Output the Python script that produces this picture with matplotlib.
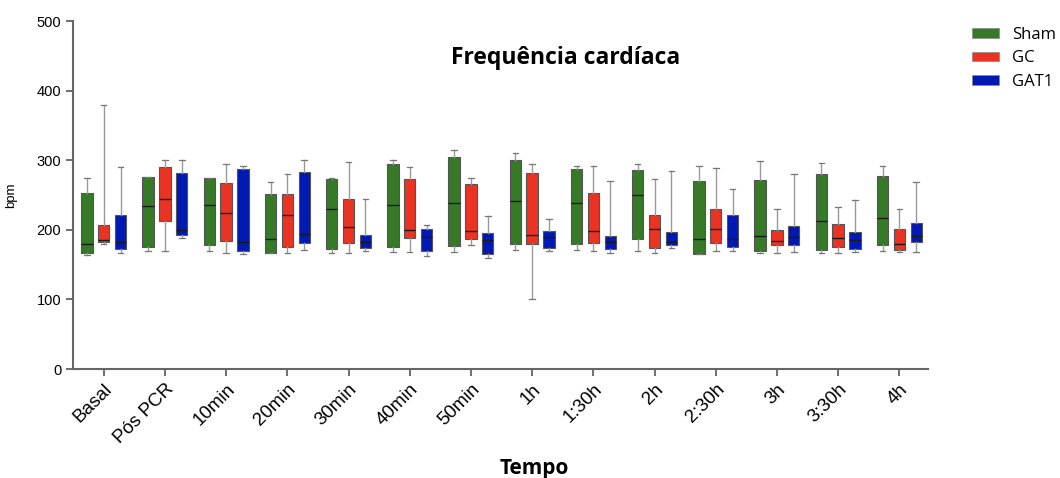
import numpy as np
import matplotlib.pyplot as plt
from matplotlib.patches import Patch

tempos = ['Basal', 'Pós PCR', '10min', '20min', '30min', '40min', '50min',
          '1h', '1:30h', '2h', '2:30h', '3h', '3:30h', '4h']
grupos = ['Sham', 'GC', 'GAT1']
cores = ['#367a27', '#ea3323', '#0019b3']

# each row: [whislo, q1, med, q3, whishi] per time point
sham = [
    [164, 166, 180, 253, 275],
    [170, 175, 234, 276, 276],
    [169, 178, 236, 274, 275],
    [166, 167, 187, 252, 268],
    [167, 173, 230, 273, 275],
    [168, 176, 235, 294, 300],
    [168, 177, 239, 305, 315],
    [171, 180, 242, 301, 311],
    [171, 179, 239, 287, 292],
    [169, 187, 250, 286, 295],
    [165, 165, 187, 270, 291],
    [166, 170, 191, 272, 299],
    [166, 171, 213, 280, 296],
    [170, 178, 217, 277, 292],
]
gc = [
    [179, 182, 186, 207, 380],
    [170, 212, 245, 290, 300],
    [166, 184, 224, 267, 294],
    [167, 176, 221, 252, 280],
    [167, 181, 204, 245, 298],
    [168, 188, 200, 273, 290],
    [178, 187, 198, 266, 274],
    [101, 180, 192, 281, 294],
    [170, 181, 198, 253, 291],
    [166, 174, 201, 221, 273],
    [170, 181, 201, 230, 289],
    [167, 178, 184, 200, 230],
    [166, 176, 188, 208, 233],
    [168, 171, 180, 201, 230],
]
gat1 = [
    [167, 172, 183, 221, 290],
    [188, 192, 200, 281, 300],
    [165, 169, 183, 288, 292],
    [171, 181, 194, 283, 300],
    [170, 174, 183, 193, 245],
    [162, 170, 190, 201, 207],
    [160, 165, 185, 195, 220],
    [169, 174, 189, 199, 216],
    [166, 173, 182, 191, 270],
    [174, 178, 183, 197, 284],
    [170, 175, 187, 221, 258],
    [168, 178, 189, 206, 280],
    [168, 173, 186, 197, 243],
    [168, 182, 191, 210, 268],
]

plt.rcParams['font.family'] = ['Liberation Sans', 'DejaVu Sans']

fig = plt.figure(figsize=(10.6, 4.78), dpi=100)
ax = fig.add_axes([0.069, 0.228, 0.806, 0.728])

x = np.arange(len(tempos))
offsets = [-0.275, 0.0, 0.275]
for dados, cor, off in zip([sham, gc, gat1], cores, offsets):
    stats = []
    for row in dados:
        lo, q1, med, q3, hi = row
        stats.append(dict(whislo=lo, q1=q1, med=med, q3=q3, whishi=hi, fliers=[]))
    ax.bxp(stats, positions=x + off, widths=0.185, patch_artist=True,
           showfliers=False,
           boxprops=dict(facecolor=cor, edgecolor='#555555', linewidth=0.8),
           medianprops=dict(color='#1a1a1a', linewidth=1.0),
           whiskerprops=dict(color='#9a9a9a', linewidth=1.0),
           capprops=dict(color='#777777', linewidth=0.9),
           capwidths=0.09)

ax.set_xlim(-0.5, 13.46)
ax.set_ylim(0, 500)
ax.set_yticks([0, 100, 200, 300, 400, 500])
ax.set_xticks(x)
ax.set_xticklabels(tempos, rotation=45, ha='right', rotation_mode='anchor',
                   fontsize=13.5)
ax.tick_params(axis='y', labelsize=10.5, length=5, width=1.2, color='#555555')
ax.tick_params(axis='x', length=5, width=1.2, color='#555555')
for s in ['top', 'right']:
    ax.spines[s].set_visible(False)
for s in ['left', 'bottom']:
    ax.spines[s].set_color('#666666')
    ax.spines[s].set_linewidth(1.5)

ax.set_ylabel('bpm', fontsize=9.5, labelpad=14)
ax.set_xlabel('Tempo', fontsize=15, fontweight='bold', family='Open Sans')
ax.xaxis.set_label_coords(0.54, -0.255)
ax.text(0.576, 0.893, 'Frequência cardíaca', transform=ax.transAxes,
        ha='center', va='center', fontsize=16.5, fontweight='bold',
        family='Open Sans')

handles = [Patch(facecolor=c, edgecolor='#888888', linewidth=0.5) for c in cores]
fig.legend(handles, grupos, loc='upper left', bbox_to_anchor=(0.903, 0.975),
           frameon=False, handlelength=1.6, handleheight=0.5,
           labelspacing=0.45, prop={'family': 'Open Sans', 'size': 12})

fig.savefig('out.png', dpi=100)
